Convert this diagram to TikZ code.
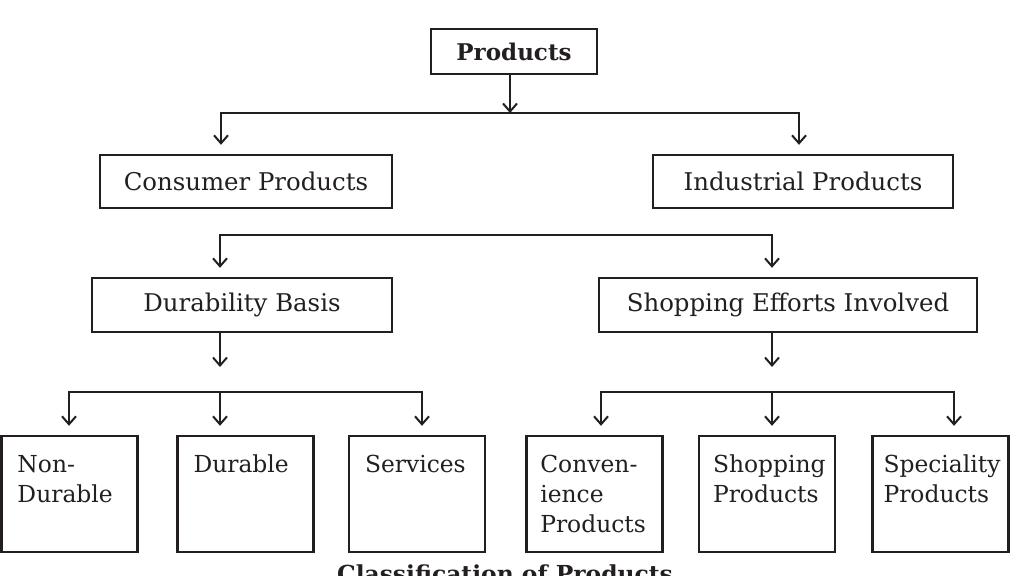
\documentclass[tikz,border=0pt]{standalone}
\usepackage{fontspec}
\setmainfont{DejaVu Serif}
\usetikzlibrary{positioning, arrows.meta}
\definecolor{ink}{RGB}{35,31,32}

\begin{document}
\begin{tikzpicture}[x=0.5pt, y=-0.5pt, font=\fontsize{12.2}{15}\selectfont, color=ink,
  box/.style={rectangle, draw=ink, line width=1.2pt, inner sep=0pt, minimum height=26.5pt},
  leaf/.style={rectangle, draw=ink, line width=1.2pt, text width=52pt, inner xsep=8pt, inner ysep=0pt,
    align=left, text height=18pt, text depth=40pt, font=\fontsize{11.7}{15}\selectfont},
  arrow/.style={-{Straight Barb[length=4pt, width=7pt]}, line width=1pt, draw=ink},
  drop/.style={arrow, shorten >=4.5pt},
  bar/.style={line width=1pt, line cap=rect, draw=ink}
]
\useasboundingbox (0,0) rectangle (1021,575);

\node[box, minimum width=83pt, minimum height=22.5pt, font=\fontsize{11.5}{15}\selectfont\bfseries] (prod) at (514,51.5) {Products};
\node[box, minimum width=146pt] (cons) at (246,181.5) {Consumer Products};
\node[box, minimum width=150pt] (ind) at (803,181.5) {Industrial Products};
\node[box, minimum width=150pt, minimum height=27pt] (dur) at (242,305) {Durability Basis};
\node[box, minimum width=189pt, minimum height=27pt] (shop) at (788,305) {Shopping Efforts Involved};

\node[leaf] (nondur) at (69.5,494) {Non-\\Durable};
\node[leaf] (durable) at (245.5,494) {Durable};
\node[leaf] (serv) at (417,494) {Services};
\node[leaf, inner xsep=7pt, text width=54pt] (conv) at (594.3,494) {Conven-\\ience\\Products};
\node[leaf, inner xsep=7pt, text width=54pt] (shopprod) at (767,494) {Shopping\\Products};
\node[leaf, inner xsep=5.5pt, text width=57pt] (spec) at (940.5,494) {Speciality\\Products};

\node[font=\fontsize{11.7}{15}\selectfont\bfseries, anchor=base] (caption) at (505,582) {Classification of Products};

% branch points
\coordinate (b1l) at (221,113); \coordinate (b1m) at (510,113); \coordinate (b1r) at (799,113);
\coordinate (b2l) at (220,235); \coordinate (b2r) at (772,235);
\coordinate (b3l) at (69,392);  \coordinate (b3m) at (220,392); \coordinate (b3r) at (422,392);
\coordinate (b4l) at (601,392); \coordinate (b4m) at (772,392); \coordinate (b4r) at (954,392);
\coordinate (dtip) at (220,367); \coordinate (stip) at (772,367);

\draw[bar] (b1l) -- (b1r);
\draw[arrow] (prod.south -| b1m) -- (b1m);
\draw[drop] (b1l) -- (cons.north -| b1l);
\draw[drop] (b1r) -- (ind.north -| b1r);

\draw[bar] (b2l) -- (b2r);
\draw[drop] (b2l) -- (dur.north -| b2l);
\draw[drop] (b2r) -- (shop.north -| b2r);

\draw[arrow] (dur.south -| dtip) -- (dtip);
\draw[bar] (b3l) -- (b3r);
\draw[drop] (b3l) -- (nondur.north -| b3l);
\draw[drop] (b3m) -- (durable.north -| b3m);
\draw[drop] (b3r) -- (serv.north -| b3r);

\draw[arrow] (shop.south -| stip) -- (stip);
\draw[bar] (b4l) -- (b4r);
\draw[drop] (b4l) -- (conv.north -| b4l);
\draw[drop] (b4m) -- (shopprod.north -| b4m);
\draw[drop] (b4r) -- (spec.north -| b4r);

\end{tikzpicture}
\end{document}
